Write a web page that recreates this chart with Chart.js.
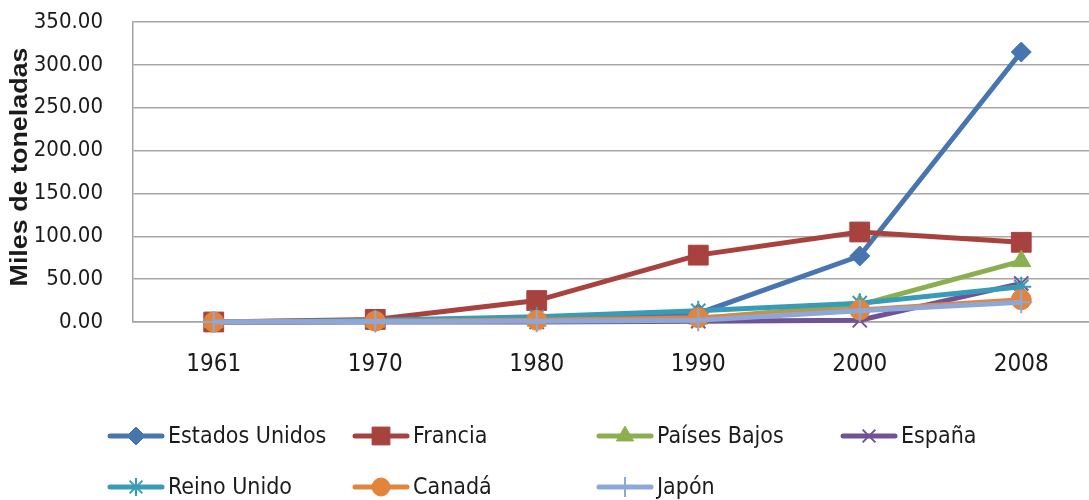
<!DOCTYPE html>
<html>
<head>
<meta charset="utf-8">
<script src="https://cdn.jsdelivr.net/npm/chart.js@4/dist/chart.umd.min.js"></script>
<style>
  html, body { margin: 0; padding: 0; background: #fff; overflow: hidden; }
  #wrap { width: 1117px; height: 500px; }
</style>
</head>
<body>
<div id="wrap"><canvas id="cnv" width="1117" height="500"></canvas></div>
<script>
const years = ['1961', '1970', '1980', '1990', '2000', '2008'];
const seriesNames = ['Estados Unidos', 'Francia', 'Países Bajos', 'España', 'Reino Unido', 'Canadá', 'Japón'];

// miles de toneladas
const estadosUnidos = [0, 0.5, 3, 10, 77, 315];
const francia       = [0, 3, 25, 78, 105, 93];
const paisesBajos   = [0, 0.5, 1.5, 4, 20, 71];
const espana        = [0, 0, 0, 1, 2, 45];
const reinoUnido    = [0, 2, 6, 13, 22, 41];
const canada        = [0, 1, 2, 5, 14, 26];
const japon         = [0, 0.5, 1, 2, 13, 23];

const yMin = 0, yMax = 350, yStep = 50;
const axisTitle = 'Miles de toneladas';

const seriesValues = [estadosUnidos, francia, paisesBajos, espana, reinoUnido, canada, japon];

const FONT = "'Liberation Sans Narrow', 'DejaVu Sans Condensed', 'Liberation Sans', sans-serif";
const TEXT = '#1b1b1b';

// excel-ish series look
const looks = [
  { color: '#4675B0', point: 'rectRot',  r: 10, bw: 1 },
  { color: '#A8423F', point: 'rect',     r: 14, bw: 1 },
  { color: '#8BAF4E', point: 'triangle', r: 11, bw: 1 },
  { color: '#6F5394', point: 'crossRot', r: 10, bw: 2 },
  { color: '#3A9BB7', point: 'star',     r: 10, bw: 2 },
  { color: '#E3843C', point: 'circle',   r: 10, bw: 1 },
  { color: '#8DA8D8', point: 'cross',    r: 11, bw: 2 }
];

const datasets = seriesNames.map((name, i) => ({
  label: name,
  data: seriesValues[i],
  borderColor: looks[i].color,
  backgroundColor: looks[i].color,
  borderWidth: 5,
  pointStyle: looks[i].point,
  pointRadius: looks[i].r,
  pointBorderWidth: looks[i].bw,
  pointBackgroundColor: looks[i].color,
  pointBorderColor: looks[i].color,
  tension: 0,
  clip: false,
  order: seriesNames.length - i   // last series ends up on top
}));

// rotated y title, stretched along the text
const yTitlePlugin = {
  id: 'yTitle',
  afterDraw(chart) {
    const ctx = chart.ctx;
    ctx.save();
    ctx.font = "bold 23px 'Liberation Sans', sans-serif";
    const w = ctx.measureText(axisTitle).width;
    ctx.translate(21, 167);
    ctx.rotate(-Math.PI / 2);
    ctx.scale(239 / w, 1);
    ctx.fillStyle = TEXT;
    ctx.textAlign = 'center';
    ctx.textBaseline = 'middle';
    ctx.fillText(axisTitle, 0, 0);
    ctx.restore();
  }
};

// legend laid out in columns, 4 per row
const gridLegendPlugin = {
  id: 'gridLegend',
  afterDraw(chart) {
    const ctx = chart.ctx;
    const colX = [110, 355, 599, 843];
    const rowY = [436, 487];
    ctx.save();
    chart.data.datasets.forEach((ds, i) => {
      const x = colX[i % 4];
      const y = rowY[Math.floor(i / 4)];
      ctx.strokeStyle = ds.borderColor;
      ctx.lineWidth = 5;
      ctx.lineCap = 'round';
      ctx.beginPath();
      ctx.moveTo(x, y);
      ctx.lineTo(x + 52, y);
      ctx.stroke();
      ctx.fillStyle = ds.pointBackgroundColor;
      ctx.strokeStyle = ds.pointBorderColor;
      ctx.lineWidth = ds.pointBorderWidth;
      ctx.lineCap = 'butt';
      Chart.helpers.drawPoint(ctx, {
        pointStyle: ds.pointStyle,
        radius: ds.pointRadius * 0.9,
        borderWidth: ds.pointBorderWidth,
        rotation: 0
      }, x + 26, y);
      ctx.fillStyle = TEXT;
      ctx.font = '23px ' + FONT;
      ctx.textAlign = 'left';
      ctx.textBaseline = 'middle';
      ctx.fillText(ds.label, x + 58, y + 1);
    });
    ctx.restore();
  }
};

new Chart(document.getElementById('cnv'), {
  type: 'line',
  data: { labels: years, datasets: datasets },
  options: {
    responsive: false,
    animation: false,
    layout: { padding: { top: 22, right: 2, left: 0, bottom: 0 } },
    plugins: {
      legend: { display: false },
      tooltip: { enabled: false }
    },
    scales: {
      x: {
        offset: true,
        grid: { display: false, drawTicks: false, offset: true },
        border: { color: '#a3a3a3', width: 1.5 },
        ticks: { color: TEXT, font: { family: FONT, size: 24 }, padding: 28 },
        afterFit(s) {
          s.height = 178;
          s.paddingLeft = 0;
          s.paddingRight = 0;
        }
      },
      y: {
        min: yMin,
        max: yMax,
        grid: { color: '#a6a6a6', lineWidth: 1.5, drawTicks: false },
        border: { color: '#a3a3a3', width: 1.5 },
        ticks: {
          stepSize: yStep,
          color: TEXT,
          font: { family: FONT, size: 22 },
          padding: 30,
          callback: v => Number(v).toFixed(2)
        },
        afterFit(s) {
          s.width = 133;
          s.paddingTop = 0;
          s.paddingBottom = 0;
        }
      }
    }
  },
  plugins: [yTitlePlugin, gridLegendPlugin]
});
</script>
</body>
</html>
